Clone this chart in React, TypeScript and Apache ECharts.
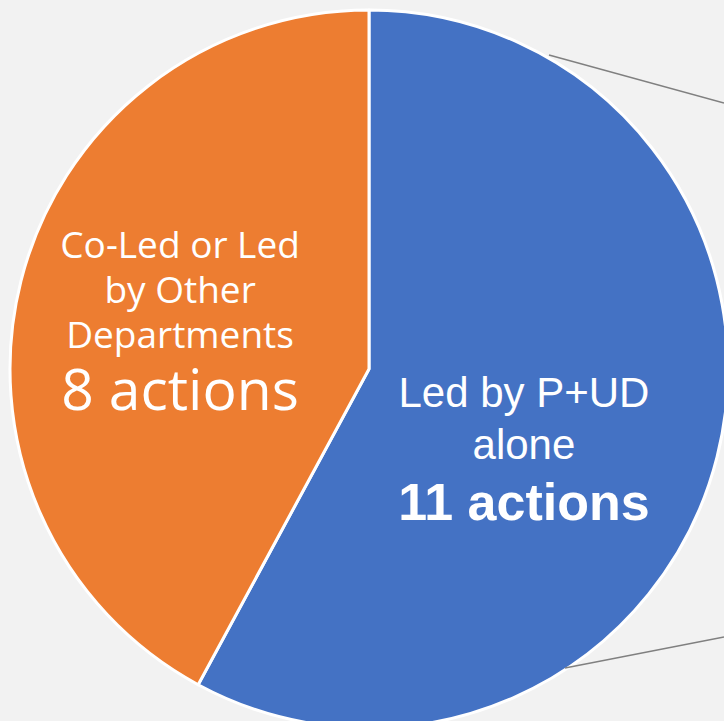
import React, { useEffect, useRef } from "react";
import * as echarts from "echarts";

const categories = ["Led by P+UD alone", "Co-Led or Led by Other Departments"];
const values = [11, 8];
const colors = ["#4472C4", "#ED7D31"];

export default function App() {
  const ref = useRef<HTMLDivElement>(null);
  useEffect(() => {
    document.body.style.margin = "0";
    const chart = echarts.init(ref.current!, null, { renderer: "svg" });
    chart.setOption({
      animation: false,
      backgroundColor: "#F2F2F2",
      graphic: [
        { type: "line", shape: { x1: 549, y1: 55, x2: 724, y2: 103 }, style: { stroke: "#808080", lineWidth: 1.5 }, z: 10 },
        { type: "line", shape: { x1: 565, y1: 668, x2: 724, y2: 637 }, style: { stroke: "#808080", lineWidth: 1.5 }, z: 10 },
      ],
      series: [
        {
          type: "pie",
          center: [369, 369],
          radius: 359,
          startAngle: 90,
          clockwise: true,
          silent: true,
          itemStyle: { borderColor: "#FFFFFF", borderWidth: 3 },
          labelLine: { show: false },
          data: [
            {
              name: categories[0],
              value: values[0],
              itemStyle: { color: colors[0] },
              label: {
                show: true,
                position: "inside",
                formatter: () => `{a|Led by P+UD}\n{a|alone}\n{b|${values[0]} actions}`,
                rich: {
                  a: { fontFamily: "Liberation Sans", fontSize: 42, lineHeight: 52, color: "#FFFFFF" },
                  b: { fontFamily: "Liberation Sans", fontSize: 52, fontWeight: "bold", lineHeight: 62, color: "#FFFFFF" },
                },
              },
            },
            {
              name: categories[1],
              value: values[1],
              itemStyle: { color: colors[1] },
              label: {
                show: true,
                position: "inside",
                formatter: () => `{a|Co-Led or Led}\n{a|by Other}\n{a|Departments}\n{b|${values[1]} actions}`,
                rich: {
                  a: { fontFamily: "Open Sans", fontSize: 37, lineHeight: 45, color: "#FFFFFF" },
                  b: { fontFamily: "Open Sans", fontSize: 57, lineHeight: 64, color: "#FFFFFF" },
                },
              },
            },
          ],
          labelLayout: (p: any) => {
            if (p.dataIndex === 0) return { dx: -22, dy: 36 };
            return { dx: -12, dy: -4 };
          },
        },
      ],
    });
    return () => chart.dispose();
  }, []);
  return <div ref={ref} style={{ width: 724, height: 721 }} />;
}
